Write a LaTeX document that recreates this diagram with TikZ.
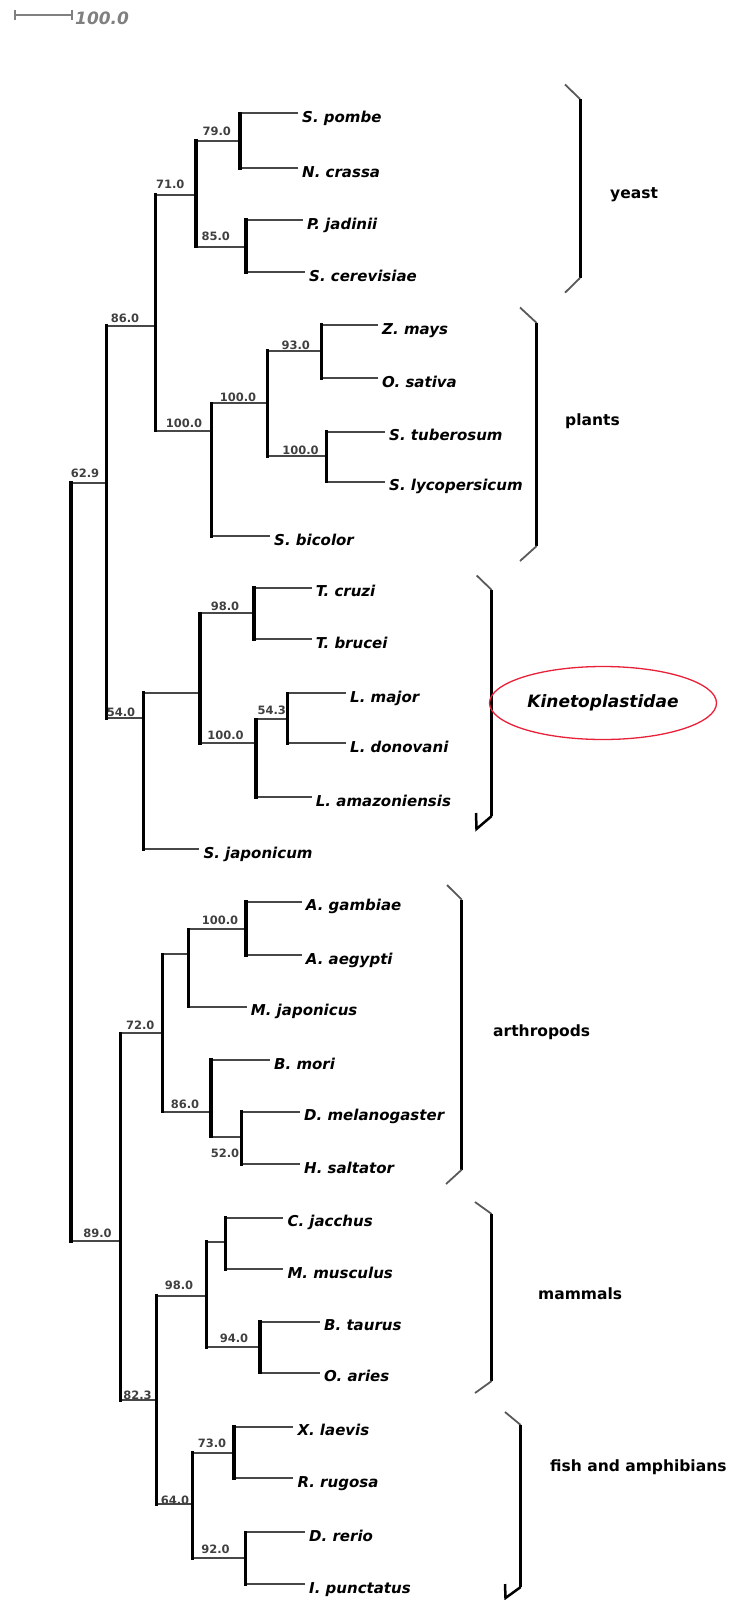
\documentclass[tikz,border=0pt]{standalone}
\usepackage{fontspec}
\usetikzlibrary{shapes.geometric}
\newfontfamily\dvs{DejaVu Sans}
\newcommand\leaffont{\dvs\bfseries\itshape\fontsize{15}{18}\selectfont}
\newcommand\bootfont{\dvs\bfseries\fontsize{11.5}{13}\selectfont}
\newcommand\grpfont{\dvs\bfseries\fontsize{15.5}{18}\selectfont}
\newcommand\kinfont{\dvs\bfseries\itshape\fontsize{17}{20}\selectfont}
\newcommand\scalefont{\dvs\bfseries\itshape\fontsize{17}{20}\selectfont}
\definecolor{kred}{RGB}{232,32,56}
\tikzset{
  hb/.style={line width=2pt, draw=black!72},
  vb/.style={line width=3.5pt, draw=black, line cap=rect},
  leaf/.style={font=\leaffont, inner sep=0pt, anchor=base west, xshift=4pt, yshift=-9pt},
  boot/.style={font=\bootfont, text=black!75, inner sep=0pt, anchor=center},
  grp/.style={font=\grpfont, inner sep=0pt, anchor=west, text height=11.3pt, text depth=3.3pt},
  brk/.style={line width=3pt, draw=black},
  tickln/.style={line width=1.8pt, draw=black!65},
  sbar/.style={line width=2pt, draw=black!50},
  kinell/.style={ellipse, draw=kred, line width=1.3pt, minimum width=227pt, minimum height=73pt, inner sep=0pt, font=\kinfont},
}
\begin{document}
\begin{tikzpicture}[x=1pt, y=-1pt]
\useasboundingbox (0,0) rectangle (735,1600);

% scale bar
\coordinate (sb1) at (15,15);
\coordinate (sb2) at (71.7,15);
\draw[sbar] (sb1) -- (sb2);
\draw[sbar] ([yshift=5pt]sb1) -- ([yshift=-5pt]sb1);
\draw[sbar] ([yshift=5pt]sb2) -- ([yshift=-5pt]sb2);
\node[font=\scalefont, text=black!50, inner sep=0pt, anchor=west] (sbl) at (75,18) {100.0};

% internal nodes
\coordinate (root) at (71,862);
\coordinate (n79) at (240,141);
\coordinate (n85) at (246,246.7);
\coordinate (n71) at (196,195);
\coordinate (n93) at (321.7,351);
\coordinate (n130) at (326.7,456);
\coordinate (n108) at (267.3,403.3);
\coordinate (n100p) at (211.7,430.7);
\coordinate (n86) at (155.7,325.7);
\coordinate (n98t) at (254,613.3);
\coordinate (n543) at (287.7,719.3);
\coordinate (nL) at (256,743.3);
\coordinate (nK) at (200,692.7);
\coordinate (n54) at (143.3,718.3);
\coordinate (n62) at (106.7,482.7);
\coordinate (n100a) at (246,929.3);
\coordinate (nA) at (188.3,954.3);
\coordinate (n52) at (241.7,1136.7);
\coordinate (n86b) at (211,1111.7);
\coordinate (n72) at (162.7,1033.3);
\coordinate (nM) at (225.7,1241.7);
\coordinate (n94) at (260,1347.3);
\coordinate (n98m) at (206.7,1295.7);
\coordinate (n73) at (234,1452.7);
\coordinate (n92) at (245.7,1558.3);
\coordinate (n64) at (192.7,1504.3);
\coordinate (n82) at (156.7,1400);
\coordinate (n89) at (120.7,1241);

% leaf ends
\coordinate (e0) at (298,113.3);
\coordinate (e1) at (298,168.3);
\coordinate (e2) at (303,220);
\coordinate (e3) at (305,272);
\coordinate (e4) at (378,325);
\coordinate (e5) at (378,378.3);
\coordinate (e6) at (385,431.7);
\coordinate (e7) at (385,481.7);
\coordinate (e8) at (270,536);
\coordinate (e9) at (311.7,587.7);
\coordinate (e10) at (311.7,639.3);
\coordinate (e11) at (346,693.3);
\coordinate (e12) at (346,743.3);
\coordinate (e13) at (311.7,797.3);
\coordinate (e14) at (199.3,849.3);
\coordinate (e15) at (301.7,901.7);
\coordinate (e16) at (301.7,955);
\coordinate (e17) at (246.7,1006.7);
\coordinate (e18) at (270,1060);
\coordinate (e19) at (300,1111.7);
\coordinate (e20) at (300,1164);
\coordinate (e21) at (283.3,1217.7);
\coordinate (e22) at (283.3,1269.3);
\coordinate (e23) at (320,1321.7);
\coordinate (e24) at (320,1372.7);
\coordinate (e25) at (293.3,1426.7);
\coordinate (e26) at (293.3,1478.3);
\coordinate (e27) at (305,1532.3);
\coordinate (e28) at (305,1584.3);

% leaf labels
\node[leaf] (t0) at (e0) {S. pombe};
\node[leaf] (t1) at (e1) {N. crassa};
\node[leaf] (t2) at (e2) {P. jadinii};
\node[leaf] (t3) at (e3) {S. cerevisiae};
\node[leaf] (t4) at (e4) {Z. mays};
\node[leaf] (t5) at (e5) {O. sativa};
\node[leaf] (t6) at (e6) {S. tuberosum};
\node[leaf] (t7) at (e7) {S. lycopersicum};
\node[leaf] (t8) at (e8) {S. bicolor};
\node[leaf] (t9) at (e9) {T. cruzi};
\node[leaf] (t10) at (e10) {T. brucei};
\node[leaf] (t11) at (e11) {L. major};
\node[leaf] (t12) at (e12) {L. donovani};
\node[leaf] (t13) at (e13) {L. amazoniensis};
\node[leaf] (t14) at (e14) {S. japonicum};
\node[leaf] (t15) at (e15) {A. gambiae};
\node[leaf] (t16) at (e16) {A. aegypti};
\node[leaf] (t17) at (e17) {M. japonicus};
\node[leaf] (t18) at (e18) {B. mori};
\node[leaf] (t19) at (e19) {D. melanogaster};
\node[leaf] (t20) at (e20) {H. saltator};
\node[leaf] (t21) at (e21) {C. jacchus};
\node[leaf] (t22) at (e22) {M. musculus};
\node[leaf] (t23) at (e23) {B. taurus};
\node[leaf] (t24) at (e24) {O. aries};
\node[leaf] (t25) at (e25) {X. laevis};
\node[leaf] (t26) at (e26) {R. rugosa};
\node[leaf] (t27) at (e27) {D. rerio};
\node[leaf] (t28) at (e28) {I. punctatus};

% horizontal branches: leaves
\draw[hb] (n79 |- e0) -- (e0);
\draw[hb] (n79 |- e1) -- (e1);
\draw[hb] (n85 |- e2) -- (e2);
\draw[hb] (n85 |- e3) -- (e3);
\draw[hb] (n93 |- e4) -- (e4);
\draw[hb] (n93 |- e5) -- (e5);
\draw[hb] (n130 |- e6) -- (e6);
\draw[hb] (n130 |- e7) -- (e7);
\draw[hb] (n100p |- e8) -- (e8);
\draw[hb] (n98t |- e9) -- (e9);
\draw[hb] (n98t |- e10) -- (e10);
\draw[hb] (n543 |- e11) -- (e11);
\draw[hb] (n543 |- e12) -- (e12);
\draw[hb] (nL |- e13) -- (e13);
\draw[hb] (n54 |- e14) -- (e14);
\draw[hb] (n100a |- e15) -- (e15);
\draw[hb] (n100a |- e16) -- (e16);
\draw[hb] (nA |- e17) -- (e17);
\draw[hb] (n86b |- e18) -- (e18);
\draw[hb] (n52 |- e19) -- (e19);
\draw[hb] (n52 |- e20) -- (e20);
\draw[hb] (nM |- e21) -- (e21);
\draw[hb] (nM |- e22) -- (e22);
\draw[hb] (n94 |- e23) -- (e23);
\draw[hb] (n94 |- e24) -- (e24);
\draw[hb] (n73 |- e25) -- (e25);
\draw[hb] (n73 |- e26) -- (e26);
\draw[hb] (n92 |- e27) -- (e27);
\draw[hb] (n92 |- e28) -- (e28);

% horizontal branches: internal
\draw[hb] (n71 |- n79) -- (n79);
\draw[hb] (n71 |- n85) -- (n85);
\draw[hb] (n86 |- n71) -- (n71);
\draw[hb] (n108 |- n93) -- (n93);
\draw[hb] (n108 |- n130) -- (n130);
\draw[hb] (n100p |- n108) -- (n108);
\draw[hb] (n86 |- n100p) -- (n100p);
\draw[hb] (n62 |- n86) -- (n86);
\draw[hb] (nK |- n98t) -- (n98t);
\draw[hb] (nL |- n543) -- (n543);
\draw[hb] (nK |- nL) -- (nL);
\draw[hb] (n54 |- nK) -- (nK);
\draw[hb] (n62 |- n54) -- (n54);
\draw[hb] (root |- n62) -- (n62);
\draw[hb] (nA |- n100a) -- (n100a);
\draw[hb] (n72 |- nA) -- (nA);
\draw[hb] (n86b |- n52) -- (n52);
\draw[hb] (n72 |- n86b) -- (n86b);
\draw[hb] (n89 |- n72) -- (n72);
\draw[hb] (n98m |- nM) -- (nM);
\draw[hb] (n98m |- n94) -- (n94);
\draw[hb] (n82 |- n98m) -- (n98m);
\draw[hb] (n64 |- n73) -- (n73);
\draw[hb] (n64 |- n92) -- (n92);
\draw[hb] (n82 |- n64) -- (n64);
\draw[hb] (n89 |- n82) -- (n82);
\draw[hb] (root |- n89) -- (n89);

% vertical branches
\draw[vb] (n79 |- e0) -- (n79 |- e1);
\draw[vb] (n85 |- e2) -- (n85 |- e3);
\draw[vb] (n71 |- n79) -- (n71 |- n85);
\draw[vb] (n93 |- e4) -- (n93 |- e5);
\draw[vb] (n130 |- e6) -- (n130 |- e7);
\draw[vb] (n108 |- n93) -- (n108 |- n130);
\draw[vb] (n100p |- n108) -- (n100p |- e8);
\draw[vb] (n86 |- n71) -- (n86 |- n100p);
\draw[vb] (n98t |- e9) -- (n98t |- e10);
\draw[vb] (n543 |- e11) -- (n543 |- e12);
\draw[vb] (nL |- n543) -- (nL |- e13);
\draw[vb] (nK |- n98t) -- (nK |- nL);
\draw[vb] (n54 |- nK) -- (n54 |- e14);
\draw[vb] (n62 |- n86) -- (n62 |- n54);
\draw[vb] (n100a |- e15) -- (n100a |- e16);
\draw[vb] (nA |- n100a) -- (nA |- e17);
\draw[vb] (n52 |- e19) -- (n52 |- e20);
\draw[vb] (n86b |- e18) -- (n86b |- n52);
\draw[vb] (n72 |- nA) -- (n72 |- n86b);
\draw[vb] (nM |- e21) -- (nM |- e22);
\draw[vb] (n94 |- e23) -- (n94 |- e24);
\draw[vb] (n98m |- nM) -- (n98m |- n94);
\draw[vb] (n73 |- e25) -- (n73 |- e26);
\draw[vb] (n92 |- e27) -- (n92 |- e28);
\draw[vb] (n64 |- n73) -- (n64 |- n92);
\draw[vb] (n82 |- n98m) -- (n82 |- n64);
\draw[vb] (n89 |- n72) -- (n89 |- n82);
\draw[vb] (root |- n62) -- (root |- n89);

% bootstrap values
\node[boot] (b79) at (216.7,131.7) {79.0};
\node[boot] (b71) at (170.3,184) {71.0};
\node[boot] (b85) at (215.8,236) {85.0};
\node[boot] (b86) at (125,318.3) {86.0};
\node[boot] (b93) at (295.8,345) {93.0};
\node[boot] (b108) at (238,397) {100.0};
\node[boot] (b100p) at (184,423.3) {100.0};
\node[boot] (b130) at (300.5,450.7) {100.0};
\node[boot] (b62) at (85,473.3) {62.9};
\node[boot] (b98t) at (225,606) {98.0};
\node[boot] (b543) at (271.7,710) {54.3};
\node[boot] (bL) at (225.5,735) {100.0};
\node[boot] (b54) at (121,712.7) {54.0};
\node[boot] (b100a) at (220,920) {100.0};
\node[boot] (b72) at (140.3,1025) {72.0};
\node[boot] (b86b) at (185,1104.3) {86.0};
\node[boot] (b52) at (225,1153) {52.0};
\node[boot] (b89) at (97.5,1233.3) {89.0};
\node[boot] (b98m) at (179,1285) {98.0};
\node[boot] (b94) at (234,1338.3) {94.0};
\node[boot] (b82) at (137.5,1395) {82.3};
\node[boot] (b73) at (212,1443.3) {73.0};
\node[boot] (b64) at (175,1500) {64.0};
\node[boot] (b92) at (215.5,1549) {92.0};

% brackets
\draw[tickln] (565,84.5) -- (580,99);
\draw[brk] (580,99) -- (580,278);
\draw[tickln] (580,278) -- (565,292.7);

\draw[tickln] (520,307.5) -- (536.7,323);
\draw[brk] (536.7,323) -- (536.7,546);
\draw[tickln] (536.7,546) -- (520,561);

\draw[tickln] (476.7,575.5) -- (491.7,590);
\draw[brk] (491.7,590) -- (491.7,816);
\draw[brk, line width=2.5pt] (476,813) -- (476.5,829) -- (491.7,816);

\draw[tickln] (447,885) -- (461.7,899.6);
\draw[brk] (461.7,899.6) -- (461.7,1169.7);
\draw[tickln] (461.7,1169.7) -- (446,1184);

\draw[tickln] (475,1202) -- (491.7,1214);
\draw[brk] (491.7,1214) -- (491.7,1381);
\draw[tickln] (491.7,1381) -- (475,1393);

\draw[tickln] (505,1412) -- (520.7,1425);
\draw[brk] (520.7,1425) -- (520.7,1587);
\draw[brk, line width=2.5pt] (505,1584) -- (505.5,1598) -- (520.7,1587);

% group labels
\node[grp] (gyeast) at (610,194.5) {yeast};
\node[grp] (gplants) at (565,421) {plants};
\node[kinell] (kin) at (603,703) {Kinetoplastidae};
\node[grp] (garth) at (493,1032) {arthropods};
\node[grp] (gmam) at (538,1295) {mammals};
\node[grp] (gfish) at (550,1467) {fish and amphibians};
\end{tikzpicture}
\end{document}
